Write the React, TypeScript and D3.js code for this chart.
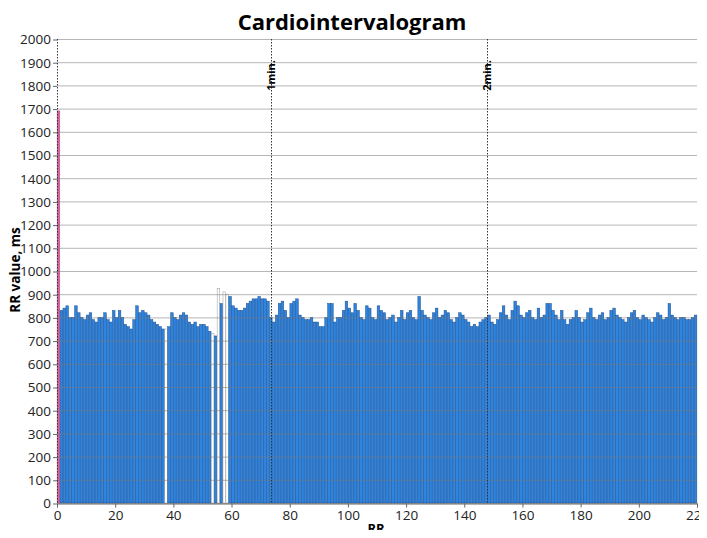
import React, { useRef, useEffect } from 'react';
import * as d3 from 'd3';

// RR intervals, ms (index = beat number)
const rrValues: number[] = [
  1690, 830, 840, 850, 800, 800, 850, 820, 800, 790, 810,
  820, 790, 780, 800, 800, 820, 790, 780, 830, 800,
  830, 800, 770, 760, 750, 790, 850, 820, 830, 820,
  810, 790, 780, 770, 760, 750, 750, 760, 820, 800,
  790, 810, 820, 810, 780, 770, 780, 760, 770, 770,
  760, 740, 730, 720, 925, 860, 910, 900, 890, 850,
  840, 830, 830, 840, 860, 870, 880, 880, 890, 880,
  880, 870, 800, 780, 810, 860, 870, 830, 800, 860,
  870, 880, 810, 800, 790, 790, 800, 780, 780, 760,
  760, 800, 860, 860, 780, 800, 800, 830, 870, 840,
  820, 860, 830, 800, 790, 850, 840, 800, 790, 850,
  830, 820, 790, 800, 810, 780, 800, 830, 790, 820,
  830, 800, 790, 890, 830, 810, 800, 790, 820, 840,
  800, 810, 830, 820, 790, 780, 800, 820, 810, 790,
  780, 760, 770, 760, 780, 790, 800, 810, 780, 770,
  790, 820, 850, 810, 790, 830, 870, 850, 810, 800,
  820, 830, 800, 790, 840, 800, 810, 860, 860, 830,
  810, 790, 830, 790, 770, 790, 800, 830, 800, 780,
  790, 820, 840, 800, 790, 810, 820, 790, 800, 830,
  840, 810, 800, 790, 780, 800, 820, 830, 800, 790,
  810, 800, 790, 780, 800, 820, 810, 790, 800, 860,
  810, 800, 790, 800, 800, 790, 790, 800, 810,
];

// beats flagged as artifacts (drawn hollow)
const artifactIdx: number[] = [37, 53, 55, 57, 58];
const yTicks: number[] = d3.range(0, 2001, 100);
const xTicks: number[] = d3.range(0, 221, 20);
const minuteMarks = [
  { pos: 0, label: '' },
  { pos: 73.6, label: '1min.' },
  { pos: 147.8, label: '2min.' },
];

const W = 707;
const H = 538;

function Cardio() {
  const svgRef = useRef<SVGSVGElement>(null);

  useEffect(() => {
    const svg = d3.select(svgRef.current);
    svg.selectAll('*').remove();

    const margin = { top: 39, right: 10, bottom: 35, left: 57 };
    const x = d3.scaleLinear().domain([0, 220]).range([margin.left, 697]);
    const y = d3.scaleLinear().domain([0, 2000]).range([H - margin.bottom, margin.top]);
    const font = "'Open Sans', 'DejaVu Sans', sans-serif";

    // green frame
    svg.append('rect').attr('width', W).attr('height', H).attr('fill', '#c4e89b');
    svg.append('rect').attr('x', 8).attr('y', 4).attr('width', 692).attr('height', H - 4).attr('fill', '#fff');

    svg
      .append('text')
      .attr('x', 352)
      .attr('y', 30)
      .attr('text-anchor', 'middle')
      .attr('font-family', font)
      .attr('font-weight', 'bold')
      .attr('font-size', 22)
      .text('Cardiointervalogram');

    // bars
    const bw = x(1) - x(0);
    svg
      .append('g')
      .selectAll('rect')
      .data(rrValues)
      .enter()
      .append('rect')
      .attr('x', (_, i) => x(i) + 0.15)
      .attr('y', (d) => y(d))
      .attr('width', bw - 0.3)
      .attr('height', (d) => y(0) - y(d))
      .attr('fill', (_, i) => (i === 0 ? '#d8609e' : artifactIdx.includes(i) ? '#fff' : '#2e84de'))
      .attr('stroke', (_, i) => (i === 0 ? '#b04a80' : artifactIdx.includes(i) ? '#999' : '#1b4f8e'))
      .attr('stroke-width', 0.5);

    // grid on top
    svg
      .append('g')
      .selectAll('line')
      .data(yTicks)
      .enter()
      .append('line')
      .attr('x1', x(0))
      .attr('x2', x(220))
      .attr('y1', (d) => y(d) + 0.5)
      .attr('y2', (d) => y(d) + 0.5)
      .attr('stroke', '#7a7a7a')
      .attr('stroke-opacity', 0.55);

    // y axis
    const gy = svg
      .append('g')
      .attr('transform', `translate(${margin.left},0.5)`)
      .call(d3.axisLeft(y).tickValues(yTicks).tickFormat(d3.format('d')).tickSize(4).tickPadding(2));
    gy.select('.domain').remove();
    gy.selectAll('.tick line').attr('stroke', '#666');
    gy.selectAll('text').attr('font-family', font).attr('font-size', 13.5).attr('fill', '#222');

    // x axis
    const gx = svg
      .append('g')
      .attr('transform', `translate(0,${y(0) + 0.5})`)
      .call(d3.axisBottom(x).tickValues(xTicks).tickFormat(d3.format('d')).tickSize(4).tickPadding(3));
    gx.select('.domain').attr('stroke', '#666');
    gx.selectAll('.tick line').attr('stroke', '#666');
    gx.selectAll('text').attr('font-family', font).attr('font-size', 13.5).attr('fill', '#222');

    // minute markers
    const mk = svg.append('g');
    mk.selectAll('line')
      .data(minuteMarks)
      .enter()
      .append('line')
      .attr('x1', (d) => Math.round(x(d.pos)) + 0.5)
      .attr('x2', (d) => Math.round(x(d.pos)) + 0.5)
      .attr('y1', y(2000))
      .attr('y2', y(0))
      .attr('stroke', '#333')
      .attr('stroke-dasharray', '1.5,1.5');
    mk.selectAll('text')
      .data(minuteMarks.filter((d) => d.label))
      .enter()
      .append('text')
      .attr('transform', (d) => `translate(${Math.round(x(d.pos)) + 4},60) rotate(-90)`)
      .attr('text-anchor', 'end')
      .attr('font-family', font)
      .attr('font-weight', 'bold')
      .attr('font-size', 11)
      .text((d) => d.label);

    // axis titles
    svg
      .append('text')
      .attr('x', 376)
      .attr('y', 533)
      .attr('text-anchor', 'middle')
      .attr('font-family', font)
      .attr('font-weight', 'bold')
      .attr('font-size', 13)
      .text('RR');
    svg
      .append('text')
      .attr('transform', 'translate(20,270) rotate(-90)')
      .attr('text-anchor', 'middle')
      .attr('font-family', font)
      .attr('font-weight', 'bold')
      .attr('font-size', 13.5)
      .text('RR value, ms');
  }, []);

  return <svg ref={svgRef} width={W} height={H} style={{ display: 'block' }} />;
}

export default function App() {
  return (
    <div style={{ margin: -8 }}>
      <Cardio />
    </div>
  );
}
